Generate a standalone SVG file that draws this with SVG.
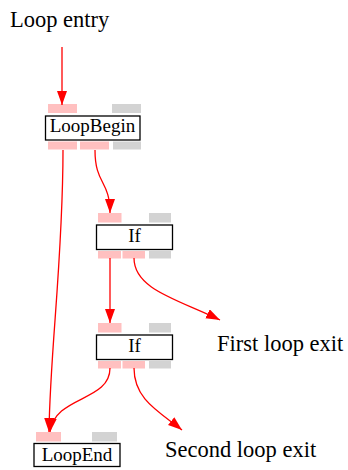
<svg xmlns="http://www.w3.org/2000/svg" width="348" height="470" viewBox="0 0 348 470">
  <style>
    .box { fill: #ffffff; stroke: #000000; stroke-width: 1.3; }
    .pin { fill: #ffc0c0; }
    .off { fill: #d3d3d3; }
    .lbl { font-family: "Liberation Serif", "Times New Roman", serif; font-size: 19px; fill: #000000; text-anchor: middle; }
    .cap { font-family: "Liberation Serif", "Times New Roman", serif; font-size: 22.5px; fill: #000000; }
    .edge { fill: none; stroke: #ff0000; stroke-width: 1.3; marker-end: url(#head); }
  </style>
  <defs>
    <marker id="head" markerUnits="userSpaceOnUse" markerWidth="15" markerHeight="11" refX="14" refY="5" orient="auto">
      <path d="M0,0 L14,5 L0,10 z" fill="#ff0000"/>
    </marker>
  </defs>

  <text class="cap" x="10" y="27">Loop entry</text>
  <text class="cap" x="217" y="351">First loop exit</text>
  <text class="cap" x="165" y="457">Second loop exit</text>

  <g id="loop-begin">
    <rect class="pin" x="48" y="104" width="29" height="9"/>
    <rect class="off" x="112" y="104" width="29" height="9"/>
    <rect class="box" x="45.5" y="116" width="94.5" height="24"/>
    <text class="lbl" x="92.5" y="132">LoopBegin</text>
    <rect class="pin" x="48" y="141.5" width="29" height="8"/>
    <rect class="pin" x="80" y="141.5" width="29" height="8"/>
    <rect class="off" x="113" y="141.5" width="28" height="8"/>
  </g>

  <g id="if-1">
    <rect class="pin" x="98" y="213" width="23.5" height="9.5"/>
    <rect class="off" x="149" y="213" width="22" height="9.5"/>
    <rect class="box" x="96.5" y="225" width="76" height="24.5"/>
    <text class="lbl" x="134.5" y="241.5">If</text>
    <rect class="pin" x="98" y="251" width="23" height="7.5"/>
    <rect class="pin" x="122.5" y="251" width="22.5" height="7.5"/>
    <rect class="off" x="149" y="251" width="22" height="7.5"/>
  </g>

  <g id="if-2">
    <rect class="pin" x="98" y="323" width="23.5" height="9.5"/>
    <rect class="off" x="149" y="323" width="22" height="9.5"/>
    <rect class="box" x="96.5" y="335" width="76" height="24.5"/>
    <text class="lbl" x="134.5" y="351.5">If</text>
    <rect class="pin" x="98" y="361" width="23" height="7.5"/>
    <rect class="pin" x="122.5" y="361" width="22.5" height="7.5"/>
    <rect class="off" x="149" y="361" width="22" height="7.5"/>
  </g>

  <g id="loop-end">
    <rect class="pin" x="36" y="432" width="25" height="9.5"/>
    <rect class="off" x="92" y="432" width="25" height="9.5"/>
    <rect class="box" x="34" y="443.5" width="86" height="23"/>
    <text class="lbl" x="77" y="460.5">LoopEnd</text>
  </g>

  <g id="edges">
    <path class="edge" d="M62,47 L62,105"/>
    <path class="edge" d="M63,150 C63,260 50,350 49,432"/>
    <path class="edge" d="M95,150 C95,185 110,180 110,213"/>
    <path class="edge" d="M110,258 L110,323"/>
    <path class="edge" d="M134,258 C134,290 180,300 220,320"/>
    <path class="edge" d="M110,368 C110,402 55,395 50,432"/>
    <path class="edge" d="M134,368 C134,400 160,412 182,430"/>
  </g>
</svg>
